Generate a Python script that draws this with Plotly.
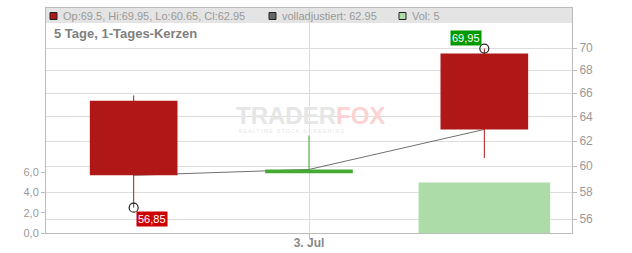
import math
import pandas as pd
import plotly.graph_objects as go

# ---------------- data ----------------
dates = ["2024-07-02", "2024-07-03", "2024-07-04"]
opens = [65.35, 59.45, 69.5]
highs = [65.8, 62.45, 69.95]
lows = [56.85, 59.45, 60.65]
closes = [59.3, 59.75, 62.95]
adj_close = [59.3, 59.75, 62.95]
volumes = [0, 0, 5]
price_ticks = [56, 58, 60, 62, 64, 66, 68, 70]
vol_ticks = [0, 2, 4, 6]
x_tick_dates = ["2024-07-03"]
x_tick_labels = ["3. Jul"]
chart_title = "5 Tage, 1-Tages-Kerzen"
price_range = [55.0, 73.75]
vol_range = [0, 22.3]

# ---------------- layout helpers ----------------
W, H = 632, 253
ML, MR, MT, MB = 46, 60, 8, 20
PW, PH = W - ML - MR, H - MT - MB


def px(x):
    return (x - ML) / PW


def py(y):
    return (H - MB - y) / PH


DAY_MS = 86400000
RED = "#b01818"
GREEN = "#44aa33"
VOLC = "#acdca8"
FONT = "Liberation Sans, Arial, sans-serif"


def de(v):
    return f"{v:.2f}".replace(".", ",")


fig = go.Figure()

# close line (volladjustiert)
fig.add_trace(go.Scatter(x=dates, y=adj_close, mode="lines", yaxis="y",
                         line=dict(color="#707070", width=1), hoverinfo="skip"))

# wicks
for d, o, h, l, c in zip(dates, opens, highs, lows, closes):
    col = GREEN if c >= o else RED
    fig.add_trace(go.Scatter(x=[d, d], y=[l, h], mode="lines", yaxis="y",
                             line=dict(color=col, width=1), hoverinfo="skip"))

# bodies
fig.add_trace(go.Bar(
    x=dates,
    y=[abs(c - o) for o, c in zip(opens, closes)],
    base=[min(o, c) for o, c in zip(opens, closes)],
    width=0.5 * DAY_MS,
    marker=dict(color=[GREEN if c >= o else RED for o, c in zip(opens, closes)],
                line=dict(width=0)),
    yaxis="y3", hoverinfo="skip"))

# extreme markers
lo_i = min(range(len(lows)), key=lambda i: lows[i])
hi_i = max(range(len(highs)), key=lambda i: highs[i])
fig.add_trace(go.Scatter(x=[dates[lo_i], dates[hi_i]], y=[lows[lo_i], highs[hi_i]],
                         mode="markers", yaxis="y3",
                         marker=dict(symbol="circle-open", size=9, color="#222222",
                                     line=dict(width=1.2, color="#222222")),
                         hoverinfo="skip"))

# volume
fig.add_trace(go.Bar(x=dates, y=volumes, width=0.75 * DAY_MS, yaxis="y2",
                     marker=dict(color=VOLC, line=dict(width=0)), hoverinfo="skip"))

x0 = pd.Timestamp(dates[0]) - pd.Timedelta(hours=12)
x1 = pd.Timestamp(dates[-1]) + pd.Timedelta(hours=12)
log_range = [math.log10(price_range[0]), math.log10(price_range[1])]

shapes = [
    dict(type="rect", xref="paper", yref="paper", x0=0, x1=1, y0=py(23), y1=1,
         fillcolor="#e4e4e4", line=dict(width=0), layer="below"),
]
legend_items = [
    (50, RED, f"Op:{opens[-1]}, Hi:{highs[-1]}, Lo:{lows[-1]}, Cl:{closes[-1]}"),
    (269, "#666666", f"volladjustiert: {adj_close[-1]}"),
    (399, VOLC, f"Vol: {volumes[-1]}"),
]
annotations = []
for sx, col, txt in legend_items:
    shapes.append(dict(type="rect", xref="paper", yref="paper",
                       x0=px(sx), x1=px(sx + 7), y0=py(19.5), y1=py(12.5),
                       fillcolor=col, line=dict(color="#222222", width=1)))
    annotations.append(dict(xref="paper", yref="paper", x=px(sx + 11), y=py(16),
                            xanchor="left", yanchor="middle", text=txt, showarrow=False,
                            font=dict(family=FONT, size=11, color="#999999")))

annotations.append(dict(xref="paper", yref="paper", x=px(52), y=py(33),
                        xanchor="left", yanchor="middle", text=f"<b>{chart_title}</b>",
                        showarrow=False, font=dict(family=FONT, size=13, color="#808080")))

# watermark (single text block: logo + tagline)
annotations.append(dict(xref="paper", yref="paper", x=px(234), y=py(118),
                        xanchor="left", yanchor="middle", align="left",
                        text="<span style='font-size:24px'><b>"
                             "<span style='color:#e6e6e6'>TRADER</span>"
                             "<span style='color:#fbd3d3'>FOX</span></b></span>"
                             "<br><span style='font-size:5px'>  R E A L T I M E   "
                             "S T O C K   S C R E E N I N G</span>",
                        showarrow=False, font=dict(family=FONT, size=7, color="#e6e6e6")))

# extreme labels
annotations.append(dict(xref="x", yref="y", x=dates[lo_i], y=math.log10(lows[lo_i]),
                        xanchor="left", yanchor="top", xshift=2, yshift=-3,
                        text=de(lows[lo_i]), showarrow=False, bgcolor="#cc0000",
                        borderpad=1, font=dict(family=FONT, size=11, color="white")))
annotations.append(dict(xref="x", yref="y", x=dates[hi_i], y=math.log10(highs[hi_i]),
                        xanchor="right", yanchor="bottom", xshift=-2, yshift=3,
                        text=de(highs[hi_i]), showarrow=False, bgcolor="#009900",
                        borderpad=1, font=dict(family=FONT, size=11, color="white")))

AX = "#bbbbbb"
GRID = "#dddddd"
fig.update_layout(
    width=W, height=H,
    margin=dict(l=ML, r=MR, t=MT, b=MB, pad=0, autoexpand=False),
    paper_bgcolor="white", plot_bgcolor="white",
    showlegend=False, barmode="overlay", separators=",.",
    font=dict(family=FONT),
    xaxis=dict(type="date", range=[x0, x1], tickvals=x_tick_dates,
               ticktext=[f"<b>{t}</b>" for t in x_tick_labels], automargin=False,
               showgrid=True, gridcolor=GRID, showline=True, mirror=True,
               linecolor=AX, ticks="outside", ticklen=4, tickcolor=AX,
               ticklabelstandoff=-5,
               tickfont=dict(size=12, color="#888888"), zeroline=False, fixedrange=True),
    yaxis=dict(type="log", range=log_range, side="right", tickvals=price_ticks,
               ticktext=[str(t) for t in price_ticks], showgrid=True, gridcolor=GRID,
               showline=True, linecolor=AX, ticks="outside", ticklen=4, tickcolor=AX,
               automargin=False,
               tickfont=dict(size=12, color="#999999"), zeroline=False),
    yaxis2=dict(overlaying="y", side="left", range=vol_range, tickvals=vol_ticks,
                tickformat=".1f", showgrid=False, showline=True, linecolor=AX,
                ticks="outside", ticklen=4, tickcolor=AX, automargin=False,
                tickfont=dict(size=11, color="#999999"), zeroline=False),
    yaxis3=dict(overlaying="y", type="log", range=log_range, visible=False),
    shapes=shapes, annotations=annotations,
)

fig.write_html("out.html")
